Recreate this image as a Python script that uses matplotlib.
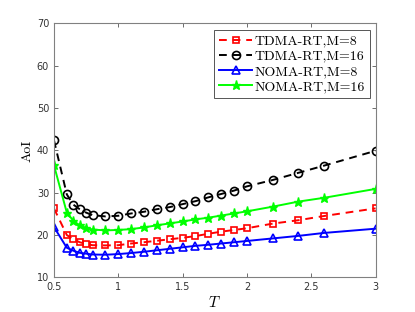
import matplotlib
matplotlib.use("Agg")
import matplotlib.pyplot as plt

plt.rcParams['mathtext.fontset'] = 'cm'

T = [0.5, 0.6, 0.65, 0.7, 0.75, 0.8, 0.9, 1.0, 1.1, 1.2, 1.3, 1.4, 1.5, 1.6,
     1.7, 1.8, 1.9, 2.0, 2.2, 2.4, 2.6, 3.0]
tdma_m8 = [26.3, 20.0, 19.0, 18.3, 17.9, 17.6, 17.55, 17.6, 18.0, 18.3, 18.65, 19.0,
           19.35, 19.75, 20.3, 20.8, 21.2, 21.6, 22.7, 23.5, 24.5, 26.3]
tdma_m16 = [42.4, 29.6, 27.2, 26.1, 25.3, 24.7, 24.4, 24.55, 25.1, 25.5, 26.1, 26.6,
            27.3, 28.0, 28.9, 29.7, 30.5, 31.5, 33.0, 34.7, 36.4, 39.9]
noma_m8 = [21.9, 17.0, 16.3, 15.8, 15.6, 15.4, 15.35, 15.5, 15.75, 16.05, 16.4, 16.75,
           17.1, 17.45, 17.7, 18.0, 18.3, 18.6, 19.2, 19.8, 20.5, 21.5]
noma_m16 = [36.5, 25.3, 23.4, 22.3, 21.7, 21.3, 21.1, 21.2, 21.4, 21.8, 22.3, 22.75,
            23.2, 23.7, 24.1, 24.6, 25.1, 25.6, 26.7, 27.9, 28.8, 30.9]
labels = ['TDMA-RT,M=8', 'TDMA-RT,M=16', 'NOMA-RT,M=8', 'NOMA-RT,M=16']
xticks = [0.5, 1, 1.5, 2, 2.5, 3]
yticks = [10, 20, 30, 40, 50, 60, 70]

fig = plt.figure(figsize=(4.15, 3.12), dpi=100)
ax = fig.add_axes([0.130, 0.111, 0.775, 0.814])

lw = 1.4
ax.plot(T, tdma_m8, color='red', ls=(0, (4, 3)), lw=lw, marker='s', ms=5,
        mfc='none', mew=1.2, label=labels[0])
ax.plot(T, tdma_m16, color='black', ls=(0, (4, 3)), lw=lw, marker='o', ms=5.8,
        mfc='none', mew=1.2, label=labels[1])
ax.plot(T, noma_m8, color='blue', ls='-', lw=lw, marker='^', ms=6.3,
        mfc='none', mew=1.2, label=labels[2])
ax.plot(T, noma_m16, color='#00ff00', ls='-', lw=lw, marker='*', ms=6.5,
        mfc='#00ff00', mew=1.0, label=labels[3])

ax.set_xlim(0.5, 3)
ax.set_ylim(10, 70)
ax.set_xticks(xticks)
ax.set_xticklabels(['0.5', '1', '1.5', '2', '2.5', '3'])
ax.set_yticks(yticks)

for s in ax.spines.values():
    s.set_color('#808080')
    s.set_linewidth(0.8)
ax.tick_params(direction='in', top=True, right=True, length=3, width=0.6,
               colors='#555555', labelsize=7, labelcolor='#333333')
for lab in ax.get_xticklabels() + ax.get_yticklabels():
    lab.set_family('DejaVu Sans')

ax.set_xlabel('$T$', fontsize=11, labelpad=2)
ax.set_ylabel('AoI', fontsize=10, family='cmr10', labelpad=2)

leg = ax.legend(loc='upper right', bbox_to_anchor=(0.99, 0.985),
                prop={'family': 'cmr10', 'size': 10}, handlelength=2.4,
                handletextpad=0.15, borderpad=0.35, labelspacing=0.18,
                fancybox=False, framealpha=1, edgecolor='#555555', borderaxespad=0.2)
leg.get_frame().set_linewidth(0.7)

fig.savefig('out.png', dpi=100)
